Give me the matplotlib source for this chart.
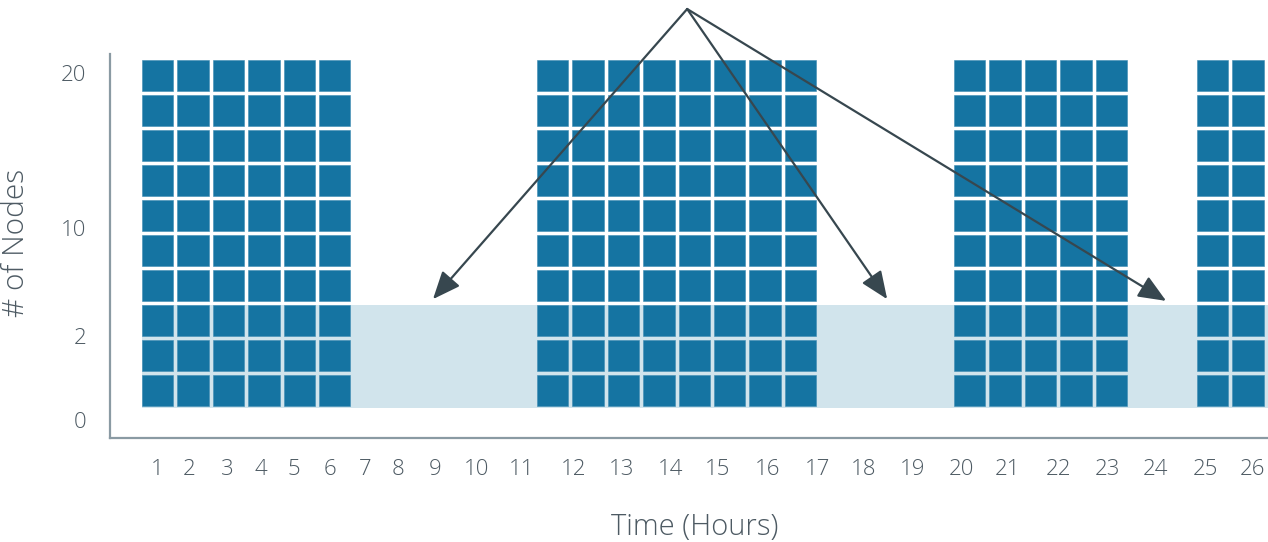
import matplotlib
matplotlib.use("Agg")
import matplotlib.pyplot as plt
from matplotlib.patches import Rectangle

# ---- data ----
block_starts = [0.0, 11.16, 22.94, 29.80]   # column index where each busy block starts
block_cols = [6, 8, 5, 2]                   # number of node columns per block
block_rows = [10, 10, 10, 10]               # nodes stacked per column
base_rows = 3                               # baseline nodes (light band)

hour_labels = [str(h) for h in range(1, 27)]
hour_pos = [0.42, 1.33, 2.40, 3.36, 4.29, 5.31, 6.30, 7.23, 8.28, 9.46, 10.73,
            12.18, 13.56, 14.92, 16.27, 17.68, 19.07, 20.37, 21.78, 23.16,
            24.46, 25.88, 27.26, 28.62, 30.03, 31.38]
ytick_labels = ["0", "2", "10", "20"]
ytick_pos = [-0.33, 2.05, 5.13, 9.56]

arrow_src = (15.40, 11.40)
arrow_tips = [(8.22, 3.11), (21.05, 3.11), (28.93, 3.06)]

# ---- style ----
BLUE = "#1574a2"
BAND = "#d1e4ec"
SPINE = "#8a9aa3"
TEXT = "#4d5a63"
ARROW = "#37474f"
plt.rcParams['font.family'] = ['Open Sans', 'DejaVu Sans']

fig = plt.figure(figsize=(12.68, 5.42), dpi=100)
ax = fig.add_axes([110/1268, (542-437.7)/542, (1268-110)/1268, (437.7-54)/542])

gap_x = 4/35.4
gap_y = 4/35.0
ax.set_xlim(-(142-110)/35.4, (1268-142)/35.4)
ax.set_ylim(-(437.7-408)/35.0, (408-54)/35.0)

# baseline band
ax.add_patch(Rectangle((0, 0), 40, base_rows - gap_y/2, facecolor=BAND, edgecolor='none', zorder=1))

# node squares
for start, ncol, nrow in zip(block_starts, block_cols, block_rows):
    for c in range(ncol):
        for r in range(nrow):
            ax.add_patch(Rectangle((start + c, r + gap_y/2), 1 - gap_x, 1 - gap_y,
                                   facecolor=BLUE, edgecolor='#3f8cb3', linewidth=0.4, zorder=2))

# arrows
for tip in arrow_tips:
    ax.annotate("", xy=tip, xytext=arrow_src, xycoords='data', textcoords='data',
                annotation_clip=False,
                arrowprops=dict(arrowstyle="-|>,head_length=1.0,head_width=0.42",
                                mutation_scale=17, color=ARROW, lw=1.6,
                                shrinkA=0, shrinkB=0),
                zorder=5)

# spines and ticks
for s in ["top", "right"]:
    ax.spines[s].set_visible(False)
for s in ["left", "bottom"]:
    ax.spines[s].set_color(SPINE)
    ax.spines[s].set_linewidth(1.6)

ax.set_xticks(hour_pos)
ax.set_xticklabels(hour_labels)
ax.set_yticks(ytick_pos)
ax.set_yticklabels(ytick_labels)
ax.tick_params(axis='x', length=0, pad=15, labelsize=16, labelcolor=TEXT)
ax.tick_params(axis='y', length=0, pad=17, labelsize=16, labelcolor=TEXT)
for lab in ax.get_xticklabels() + ax.get_yticklabels():
    lab.set_fontweight('light')

fig.text(695/1268, 1-527/542, "Time (Hours)", ha='center', va='center',
         fontsize=21, color=TEXT, fontweight='light')
fig.text(16/1268, 1-243/542, "# of Nodes", ha='center', va='center', rotation=90,
         fontsize=21.5, color=TEXT, fontweight='light')

fig.savefig("out.png", dpi=100)
